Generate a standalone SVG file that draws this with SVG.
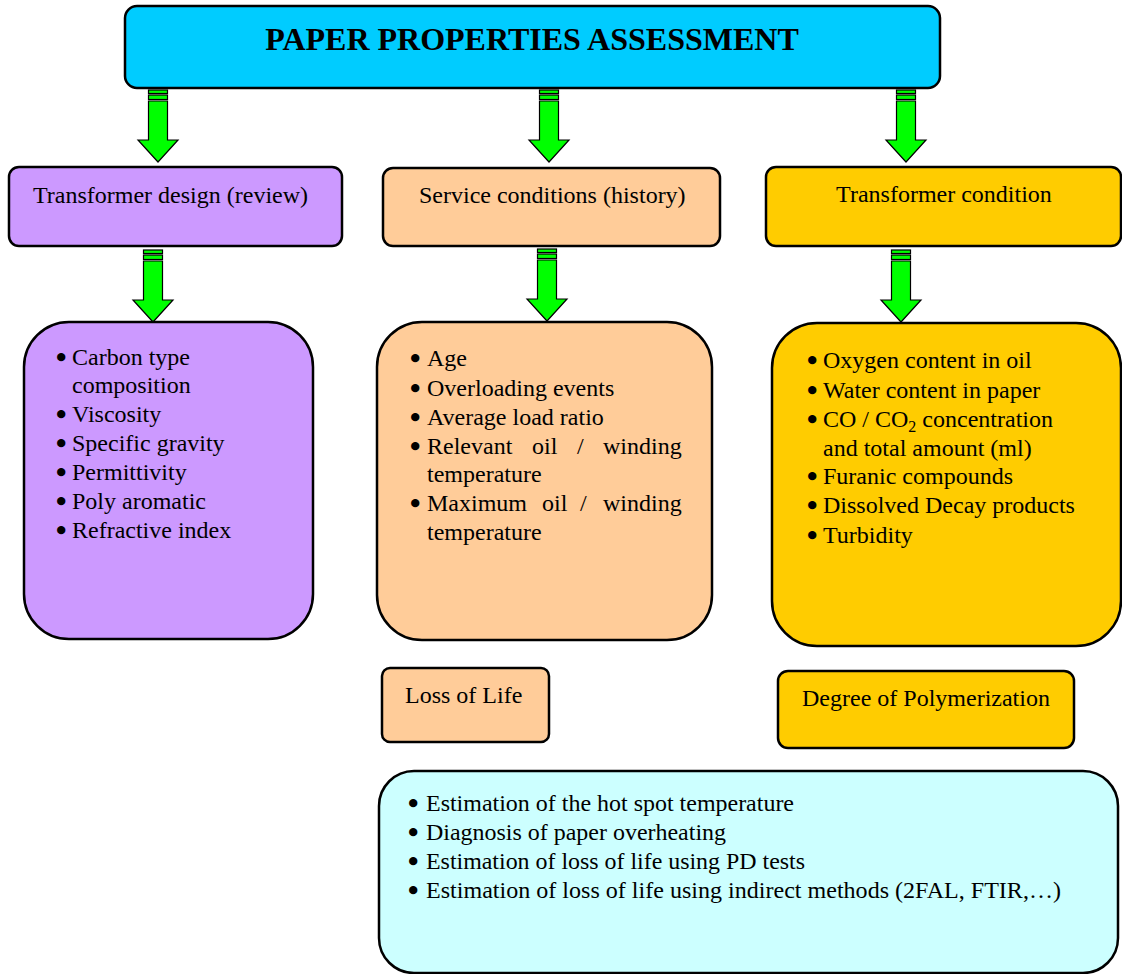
<svg xmlns="http://www.w3.org/2000/svg" xmlns:xlink="http://www.w3.org/1999/xlink" width="1122" height="974" viewBox="0 0 1122 974">
<style>
.box{stroke:#000;stroke-width:2.5}
.t{font-family:"Liberation Serif","Times New Roman",serif;font-size:24px;fill:#000}
.b{font-weight:bold;stroke:#000;stroke-width:1.8;stroke-linejoin:round}
.title{font-family:"Liberation Serif","Times New Roman",serif;font-size:32px;font-weight:bold;fill:#000}
.arr{fill:#00FF00;stroke:#000;stroke-width:1.2}
</style>
<defs>
<g id="arrow">
<rect class="arr" x="-9.5" y="1" width="19" height="3.5"/>
<rect class="arr" x="-9.5" y="6" width="19" height="4.5"/>
<path class="arr" d="M-9.5 12 H9.5 V51 H20 L0 73 L-20 51 H-9.5 Z"/>
</g>
</defs>
<rect width="1122" height="974" fill="#fff"/>

<g id="connectors">
<use xlink:href="#arrow" x="158" y="89"/>
<use xlink:href="#arrow" x="549" y="89"/>
<use xlink:href="#arrow" x="906" y="89"/>
<use xlink:href="#arrow" x="153" y="249"/>
<use xlink:href="#arrow" x="547" y="248"/>
<use xlink:href="#arrow" x="901" y="249"/>
</g>

<g id="title">
<rect class="box" x="125" y="6" width="815" height="82" rx="12" fill="#00CCFF"/>
<text class="title" x="532" y="50" text-anchor="middle">PAPER PROPERTIES ASSESSMENT</text>
</g>

<g id="design">
<rect class="box" x="9" y="167" width="333" height="79" rx="10" fill="#CC99FF"/>
<text class="t" x="33" y="203">Transformer design (review)</text>
</g>

<g id="service">
<rect class="box" x="383" y="168" width="337" height="78" rx="10" fill="#FFCC99"/>
<text class="t" x="419" y="203">Service conditions (history)</text>
</g>

<g id="condition">
<rect class="box" x="766" y="167" width="355" height="79" rx="10" fill="#FFCC00"/>
<text class="t" x="944" y="202" text-anchor="middle">Transformer condition</text>
</g>

<g id="design-list">
<rect class="box" x="24" y="322" width="289" height="317" rx="45" fill="#CC99FF"/>
<text class="t" x="57" y="365"><tspan class="b">•</tspan><tspan x="72">Carbon type</tspan></text>
<text class="t" x="72" y="393">composition</text>
<text class="t" x="57" y="422"><tspan class="b">•</tspan><tspan x="72">Viscosity</tspan></text>
<text class="t" x="57" y="451"><tspan class="b">•</tspan><tspan x="72">Specific gravity</tspan></text>
<text class="t" x="57" y="480"><tspan class="b">•</tspan><tspan x="72">Permittivity</tspan></text>
<text class="t" x="57" y="509"><tspan class="b">•</tspan><tspan x="72">Poly aromatic</tspan></text>
<text class="t" x="57" y="538"><tspan class="b">•</tspan><tspan x="72">Refractive index</tspan></text>
</g>

<g id="service-list">
<rect class="box" x="377" y="322" width="335" height="318" rx="45" fill="#FFCC99"/>
<text class="t" x="411" y="366"><tspan class="b">•</tspan><tspan x="427">Age</tspan></text>
<text class="t" x="411" y="396"><tspan class="b">•</tspan><tspan x="427">Overloading events</tspan></text>
<text class="t" x="411" y="425"><tspan class="b">•</tspan><tspan x="427">Average load ratio</tspan></text>
<text class="t" x="411" y="454"><tspan class="b">•</tspan><tspan x="427">Relevant</tspan><tspan x="532">oil</tspan><tspan x="577">/</tspan><tspan x="603">winding</tspan></text>
<text class="t" x="427" y="482">temperature</text>
<text class="t" x="411" y="511"><tspan class="b">•</tspan><tspan x="427">Maximum</tspan><tspan x="542">oil</tspan><tspan x="580">/</tspan><tspan x="603">winding</tspan></text>
<text class="t" x="427" y="540">temperature</text>
</g>

<g id="condition-list">
<rect class="box" x="772" y="323" width="349" height="323" rx="45" fill="#FFCC00"/>
<text class="t" x="808" y="368"><tspan class="b">•</tspan><tspan x="823">Oxygen content in oil</tspan></text>
<text class="t" x="808" y="398"><tspan class="b">•</tspan><tspan x="823">Water content in paper</tspan></text>
<text class="t" x="808" y="427"><tspan class="b">•</tspan><tspan x="823">CO / CO</tspan><tspan font-size="16" dy="5">2</tspan><tspan dy="-5"> concentration</tspan></text>
<text class="t" x="823" y="456">and total amount (ml)</text>
<text class="t" x="808" y="484"><tspan class="b">•</tspan><tspan x="823">Furanic compounds</tspan></text>
<text class="t" x="808" y="513"><tspan class="b">•</tspan><tspan x="823">Dissolved Decay products</tspan></text>
<text class="t" x="808" y="543"><tspan class="b">•</tspan><tspan x="823">Turbidity</tspan></text>
</g>

<g id="loss-of-life">
<rect class="box" x="382" y="668" width="167" height="74" rx="8" fill="#FFCC99"/>
<text class="t" x="405" y="703">Loss of Life</text>
</g>

<g id="dp">
<rect class="box" x="778" y="671" width="296" height="77" rx="10" fill="#FFCC00"/>
<text class="t" x="926" y="706" text-anchor="middle">Degree of Polymerization</text>
</g>

<g id="estimation">
<rect class="box" x="379" y="771" width="739" height="202" rx="35" fill="#CCFFFF"/>
<text class="t" x="409" y="811"><tspan class="b">•</tspan><tspan x="426" textLength="368" lengthAdjust="spacingAndGlyphs">Estimation of the hot spot temperature</tspan></text>
<text class="t" x="409" y="840"><tspan class="b">•</tspan><tspan x="426" textLength="300" lengthAdjust="spacingAndGlyphs">Diagnosis of paper overheating</tspan></text>
<text class="t" x="409" y="869"><tspan class="b">•</tspan><tspan x="426" textLength="379" lengthAdjust="spacingAndGlyphs">Estimation of loss of life using PD tests</tspan></text>
<text class="t" x="409" y="898"><tspan class="b">•</tspan><tspan x="426" textLength="635" lengthAdjust="spacingAndGlyphs">Estimation of loss of life using indirect methods (2FAL, FTIR,…)</tspan></text>
</g>
</svg>
